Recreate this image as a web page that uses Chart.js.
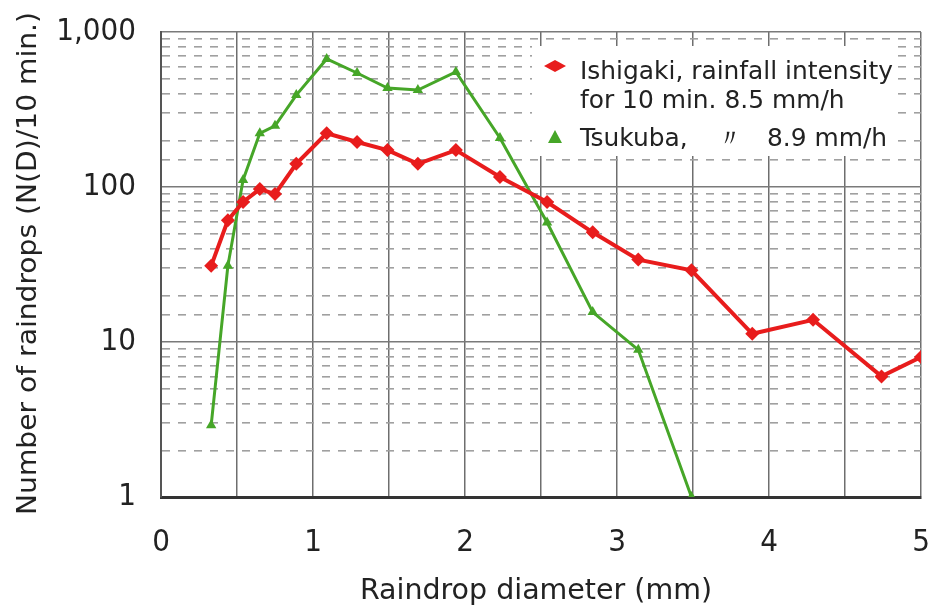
<!DOCTYPE html>
<html>
<head>
<meta charset="utf-8">
<script src="https://cdn.jsdelivr.net/npm/chart.js@4.4.0/dist/chart.umd.min.js"></script>
<style>
  body { margin: 0; background: #fff; }
  #wrap { width: 935px; height: 613px; }
</style>
</head>
<body>
<div id="wrap"><canvas id="rain" width="935" height="613"></canvas></div>
<script>
// raindrop diameter classes (mm)
const diameters = [0.33, 0.44, 0.54, 0.65, 0.75, 0.89, 1.09, 1.29, 1.49, 1.69, 1.94, 2.23, 2.54, 2.84, 3.14, 3.49, 3.89, 4.29, 4.74, 5.0];
// number of raindrops per 10 min
const ishigaki = [31, 61, 80, 97, 90, 141, 222, 195, 173, 141, 173, 116, 80, 51, 34, 29, 11.3, 13.9, 6.0, 8.0];
const tsukuba = [2.9, 31, 111, 222, 248, 392, 670, 544, 435, 422, 552, 207, 59, 15.6, 8.9, 1];

const yTickLabels = { 1: '1', 10: '10', 100: '100', 1000: '1,000' };
const xTickLabels = ['0', '1', '2', '3', '4', '5'];

const legendLines = ['Ishigaki, rainfall intensity', 'for 10 min. 8.5 mm/h'];
const legendLine3 = ['Tsukuba,', '\u3003', '8.9 mm/h'];
const xTitle = 'Raindrop diameter (mm)';
const yTitle = 'Number of raindrops (N(D)/10 min.)';

const FONT = "'Liberation Sans Narrow', 'DejaVu Sans Condensed', 'Liberation Sans', sans-serif";
const RED = 'rgb(232, 28, 28)';
const GREEN = 'rgb(70, 166, 40)';

function pts(vals) {
  return vals.map((v, i) => ({ x: diameters[i], y: v }));
}

// draw text squeezed/stretched to a given width
function fitText(ctx, text, x, y, w) {
  const k = w / ctx.measureText(text).width;
  ctx.save();
  ctx.translate(x, y);
  ctx.scale(k, 1);
  ctx.fillText(text, 0, 0);
  ctx.restore();
  return k;
}

const overlay = {
  id: 'overlay',
  afterDraw(chart) {
    const ctx = chart.ctx;
    ctx.save();
    ctx.fillStyle = '#222';
    ctx.textBaseline = 'middle';
    ctx.textAlign = 'left';
    // x title
    ctx.font = '29px ' + FONT;
    fitText(ctx, xTitle, 360, 591, 352);
    // y title
    ctx.font = '26px ' + FONT;
    ctx.translate(29, 515);
    ctx.rotate(-Math.PI / 2);
    fitText(ctx, yTitle, 0, 0, 503);
    ctx.restore();

    // legend box
    ctx.save();
    ctx.fillStyle = '#fff';
    ctx.fillRect(532, 46, 366, 110);
    ctx.fillStyle = RED;
    ctx.beginPath();
    ctx.moveTo(544, 66); ctx.lineTo(555, 60); ctx.lineTo(566, 66); ctx.lineTo(555, 72);
    ctx.closePath(); ctx.fill();
    ctx.fillStyle = GREEN;
    ctx.beginPath();
    ctx.moveTo(555, 130); ctx.lineTo(562, 143); ctx.lineTo(548, 143);
    ctx.closePath(); ctx.fill();
    ctx.fillStyle = '#222';
    ctx.font = '24px ' + FONT;
    ctx.textAlign = 'left';
    ctx.textBaseline = 'alphabetic';
    const k = fitText(ctx, legendLines[0], 580, 79, 313);
    fitText(ctx, legendLines[1], 580, 108, ctx.measureText(legendLines[1]).width * k);
    fitText(ctx, legendLine3[0], 580, 146, ctx.measureText(legendLine3[0]).width * k);
    fitText(ctx, legendLine3[1], 716, 146, ctx.measureText(legendLine3[1]).width * k);
    fitText(ctx, legendLine3[2], 767, 146, ctx.measureText(legendLine3[2]).width * k);
    ctx.restore();
  }
};

new Chart(document.getElementById('rain'), {
  type: 'line',
  data: {
    datasets: [{
      label: 'Ishigaki',
      data: pts(ishigaki),
      borderColor: RED,
      backgroundColor: RED,
      borderWidth: 4,
      pointStyle: 'rectRot',
      pointRadius: 7,
      pointBorderWidth: 0,
      tension: 0
    }, {
      label: 'Tsukuba',
      data: pts(tsukuba),
      borderColor: GREEN,
      backgroundColor: GREEN,
      borderWidth: 3,
      pointStyle: 'triangle',
      pointRadius: 6,
      pointBorderWidth: 0,
      tension: 0
    }]
  },
  options: {
    responsive: false,
    animation: false,
    layout: { padding: { top: 32, right: 14, left: 0, bottom: 0 } },
    plugins: { legend: { display: false }, tooltip: { enabled: false } },
    scales: {
      x: {
        type: 'linear',
        min: 0,
        max: 5,
        afterFit(scale) {
          scale.height = 116;
          scale.paddingLeft = 0;
          scale.paddingRight = 0;
        },
        ticks: {
          stepSize: 0.5,
          autoSkip: false,
          maxRotation: 0,
          padding: 27,
          color: '#222',
          font: { family: FONT, size: 31 },
          callback: (v) => Number.isInteger(v) ? xTickLabels[v] : ''
        },
        grid: { color: '#6e6e6e', lineWidth: 1.5, drawTicks: false },
        border: { color: '#333', width: 3 }
      },
      y: {
        type: 'logarithmic',
        min: 1,
        max: 1000,
        afterFit(scale) {
          scale.width = 161;
          scale.paddingTop = 0;
          scale.paddingBottom = 0;
        },
        ticks: {
          autoSkip: false,
          padding: 25,
          color: '#222',
          font: { family: FONT, size: 31 },
          callback: (v) => yTickLabels[v] || ''
        },
        grid: {
          drawTicks: false,
          color: (c) => (c.tick && yTickLabels[c.tick.value]) ? '#7a7a7a' : '#a0a0a0',
          lineWidth: (c) => (c.tick && yTickLabels[c.tick.value]) ? 1.5 : 1.6
        },
        border: {
          color: '#555',
          width: 2,
          dash: (c) => (c.tick && yTickLabels[c.tick.value]) ? [] : [8, 8]
        }
      }
    }
  },
  plugins: [overlay]
});
</script>
</body>
</html>
